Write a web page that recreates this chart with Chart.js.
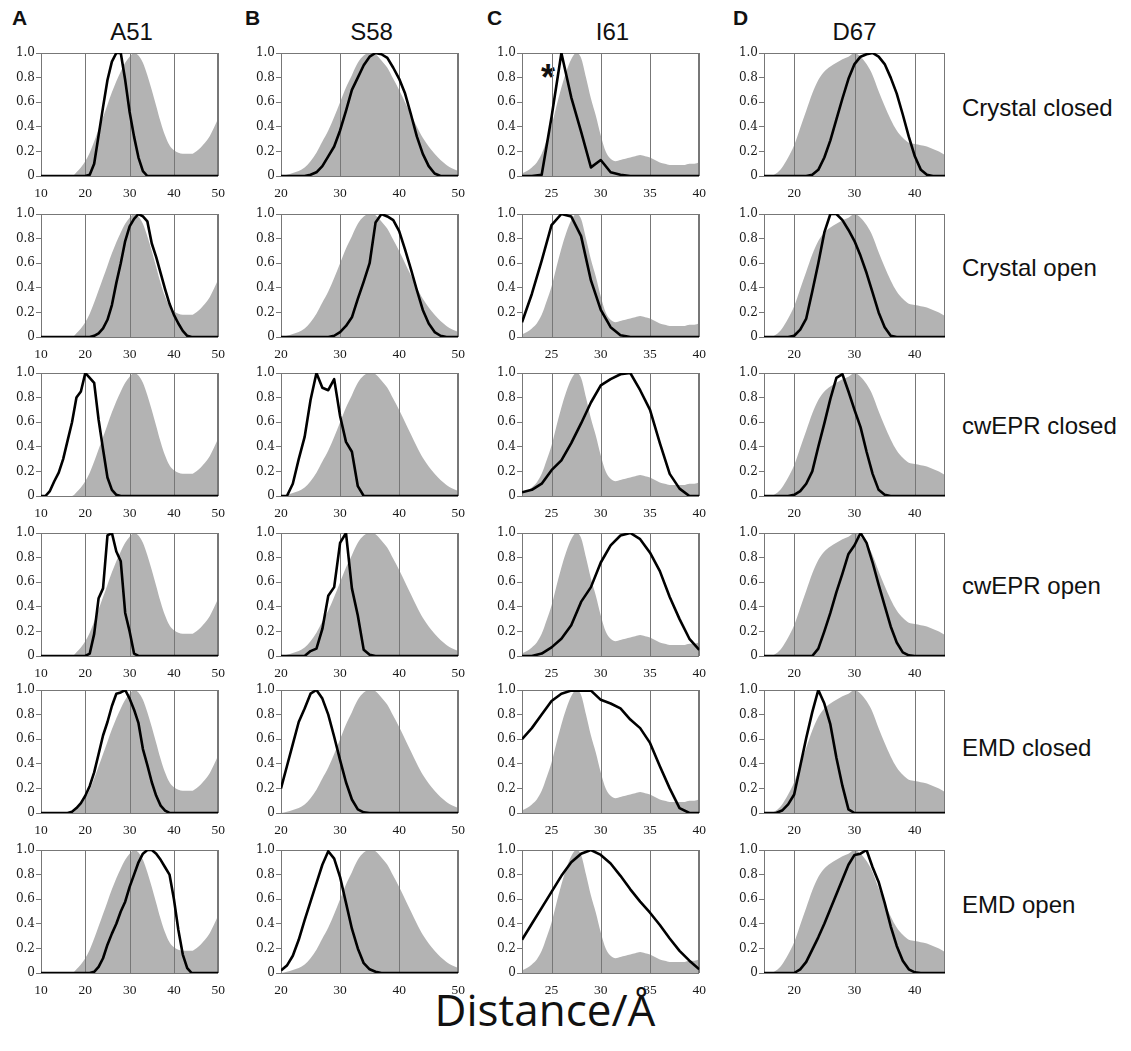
<!DOCTYPE html>
<html>
<head>
<meta charset="utf-8">
<script src="https://cdn.jsdelivr.net/npm/chart.js@4.4.0/dist/chart.umd.min.js"></script>
<style>
  body { margin: 0; background: #fff; }
  #page { position: relative; width: 1131px; height: 1051px; overflow: hidden; font-family: 'Liberation Sans', Arial, sans-serif; color: #111; }
  #page canvas { position: absolute; }
  .txt { position: absolute; white-space: nowrap; line-height: 26px; }
  .panel { font-weight: bold; font-size: 21px; }
  .title { font-size: 24px; text-align: center; }
  .rowlbl { font-size: 24px; }
  #xlabel { position: absolute; left: 0; width: 1090px; top: 985px; text-align: center; font-family: 'Open Sans', sans-serif; font-size: 44px; line-height: 48px; color: #111; }
  #star { position: absolute; left: 541px; top: 60px; font-size: 36px; font-weight: bold; line-height: 36px; }
</style>
</head>
<body>
<div id="page">
  <div id="xlabel">Distance/Å</div>
  <div id="star">*</div>
</div>
<script>
// ---- labels ----
const panelLetters = ['A', 'B', 'C', 'D'];
const residues = ['A51', 'S58', 'I61', 'D67'];
const rowLabels = ['Crystal closed', 'Crystal open', 'cwEPR closed', 'cwEPR open', 'EMD closed', 'EMD open'];

// ---- A51 (distance 10-50 Å) ----
const distA = [10,11,12,13,14,15,16,17,18,19,20,21,22,23,24,25,26,27,28,29,30,31,32,33,34,35,36,37,38,39,40,41,42,43,44,45,46,47,48,49,50];
const ticksA = [10, 20, 30, 40, 50];
const grayA = [0,0,0,0,0,0,0,0,0.03,0.07,0.12,0.19,0.28,0.38,0.48,0.58,0.68,0.77,0.85,0.92,0.97,1.0,0.98,0.92,0.82,0.70,0.57,0.44,0.33,0.25,0.21,0.19,0.18,0.18,0.18,0.2,0.23,0.27,0.32,0.39,0.47];
const a51CrystalClosed = [0,0,0,0,0,0,0,0,0,0,0,0.01,0.1,0.33,0.56,0.78,0.93,1.0,1.0,0.78,0.52,0.32,0.15,0.04,0,0,0,0,0,0,0,0,0,0,0,0,0,0,0,0,0];
const a51CrystalOpen = [0,0,0,0,0,0,0,0,0,0,0,0,0.01,0.03,0.07,0.14,0.26,0.44,0.6,0.78,0.9,0.96,1.0,0.98,0.94,0.76,0.65,0.52,0.39,0.27,0.18,0.11,0.05,0.01,0,0,0,0,0,0,0];
const a51EprClosed = [0,0,0.04,0.12,0.19,0.3,0.45,0.6,0.8,0.85,1.0,0.96,0.92,0.62,0.38,0.15,0.05,0.01,0,0,0,0,0,0,0,0,0,0,0,0,0,0,0,0,0,0,0,0,0,0,0];
const a51EprOpen = [0,0,0,0,0,0,0,0,0,0,0,0.02,0.18,0.47,0.55,0.98,1.0,0.85,0.77,0.35,0.2,0.02,0,0,0,0,0,0,0,0,0,0,0,0,0,0,0,0,0,0,0];
const a51EmdClosed = [0,0,0,0,0,0,0,0.01,0.04,0.08,0.14,0.22,0.33,0.48,0.63,0.74,0.87,0.97,0.98,1.0,0.93,0.84,0.73,0.52,0.39,0.25,0.14,0.06,0.02,0,0,0,0,0,0,0,0,0,0,0,0];
const a51EmdOpen = [0,0,0,0,0,0,0,0,0,0,0,0,0.01,0.05,0.12,0.23,0.32,0.4,0.5,0.58,0.7,0.8,0.9,0.97,1.0,1.0,0.97,0.92,0.86,0.8,0.6,0.35,0.15,0.04,0,0,0,0,0,0,0];

// ---- S58 (distance 20-50 Å) ----
const distB = [20,21,22,23,24,25,26,27,28,29,30,31,32,33,34,35,36,37,38,39,40,41,42,43,44,45,46,47,48,49,50];
const ticksB = [20, 30, 40, 50];
const grayB = [0,0.01,0.025,0.04,0.07,0.12,0.19,0.28,0.37,0.48,0.6,0.72,0.82,0.92,0.98,1.0,0.99,0.94,0.88,0.79,0.70,0.6,0.5,0.4,0.31,0.24,0.18,0.13,0.09,0.06,0.04];
const s58CrystalClosed = [0,0,0,0,0,0.01,0.03,0.08,0.16,0.24,0.37,0.53,0.7,0.8,0.9,0.97,1.0,0.99,0.96,0.88,0.79,0.67,0.5,0.32,0.18,0.08,0.02,0,0,0,0];
const s58CrystalOpen = [0,0,0,0,0,0,0,0,0,0.01,0.04,0.09,0.16,0.31,0.45,0.6,0.93,1.0,0.98,0.95,0.86,0.71,0.55,0.38,0.22,0.11,0.04,0.01,0,0,0];
const s58EprClosed = [0,0,0.1,0.3,0.48,0.78,1.0,0.88,0.86,0.95,0.65,0.44,0.36,0.08,0,0,0,0,0,0,0,0,0,0,0,0,0,0,0,0,0];
const s58EprOpen = [0,0,0,0,0,0.04,0.06,0.22,0.49,0.56,0.92,1.0,0.55,0.33,0.05,0.01,0,0,0,0,0,0,0,0,0,0,0,0,0,0,0];
const s58EmdClosed = [0.2,0.38,0.56,0.74,0.85,0.97,1.0,0.93,0.8,0.62,0.43,0.25,0.11,0.03,0.005,0,0,0,0,0,0,0,0,0,0,0,0,0,0,0,0];
const s58EmdOpen = [0.02,0.06,0.14,0.27,0.43,0.58,0.73,0.88,0.99,0.93,0.78,0.57,0.36,0.2,0.08,0.03,0.01,0,0,0,0,0,0,0,0,0,0,0,0,0,0];

// ---- I61 (distance 22-40 Å) ----
const distCGray = [22,22.5,23,23.5,24,24.5,25,25.5,26,26.5,27,27.5,28,28.5,29,29.5,30,30.5,31,31.5,32,32.5,33,33.5,34,34.5,35,35.5,36,36.5,37,37.5,38,38.5,39,39.5,40];
const distC = [22,23,24,25,26,27,28,29,30,31,32,33,34,35,36,37,38,39,40];
const ticksC = [25, 30, 35, 40];
const grayC = [0.02,0.04,0.07,0.11,0.18,0.29,0.41,0.57,0.72,0.85,0.95,1.0,0.96,0.8,0.63,0.49,0.33,0.2,0.14,0.12,0.13,0.14,0.15,0.16,0.17,0.16,0.15,0.13,0.11,0.1,0.09,0.09,0.09,0.09,0.1,0.1,0.11];
const i61CrystalClosed = [0,0,0.01,0.48,1.0,0.64,0.36,0.07,0.13,0.03,0.01,0,0,0,0,0,0,0,0];
const i61CrystalOpen = [0.12,0.35,0.62,0.91,1.0,0.98,0.82,0.46,0.22,0.08,0.015,0,0,0,0,0,0,0,0];
const i61EprClosed = [0.03,0.05,0.1,0.21,0.29,0.43,0.59,0.76,0.9,0.95,0.99,1.0,0.86,0.7,0.43,0.18,0.06,0,0];
const i61EprOpen = [0,0,0.02,0.07,0.14,0.25,0.44,0.56,0.76,0.9,0.98,1.0,0.95,0.84,0.69,0.48,0.3,0.14,0.05];
const i61EmdClosed = [0.6,0.69,0.8,0.91,0.97,0.995,0.995,0.995,0.92,0.89,0.85,0.76,0.69,0.57,0.38,0.2,0.04,0,0];
const i61EmdOpen = [0.27,0.4,0.53,0.66,0.79,0.9,0.97,1.0,0.96,0.89,0.79,0.68,0.58,0.49,0.39,0.28,0.18,0.1,0.03];

// ---- D67 (distance 15-45 Å) ----
const distD = [15,16,17,18,19,20,21,22,23,24,25,26,27,28,29,30,31,32,33,34,35,36,37,38,39,40,41,42,43,44,45];
const ticksD = [20, 30, 40];
const grayD = [0,0,0.02,0.07,0.15,0.25,0.39,0.53,0.67,0.78,0.85,0.89,0.92,0.95,0.97,1.0,0.97,0.91,0.82,0.69,0.57,0.46,0.37,0.31,0.27,0.26,0.25,0.24,0.22,0.2,0.17];
const d67CrystalClosed = [0,0,0,0,0,0,0,0,0.01,0.05,0.15,0.29,0.46,0.63,0.79,0.91,0.97,0.99,1.0,0.97,0.91,0.8,0.67,0.5,0.32,0.16,0.05,0.01,0,0,0];
const d67CrystalOpen = [0,0,0,0,0,0.01,0.06,0.15,0.37,0.6,0.85,1.0,1.0,0.95,0.87,0.78,0.66,0.52,0.36,0.2,0.08,0.01,0,0,0,0,0,0,0,0,0];
const d67EprClosed = [0,0,0,0,0,0.01,0.04,0.1,0.2,0.4,0.59,0.79,0.96,0.99,0.85,0.7,0.56,0.36,0.18,0.05,0.01,0,0,0,0,0,0,0,0,0,0];
const d67EprOpen = [0,0,0,0,0,0,0,0,0,0.06,0.2,0.35,0.52,0.67,0.83,0.9,1.0,0.92,0.76,0.58,0.41,0.24,0.11,0.03,0.005,0,0,0,0,0,0];
const d67EmdClosed = [0,0,0,0.02,0.07,0.15,0.38,0.61,0.82,1.0,0.89,0.72,0.45,0.22,0.03,0,0,0,0,0,0,0,0,0,0,0,0,0,0,0,0];
const d67EmdOpen = [0,0,0,0,0,0,0.03,0.09,0.19,0.29,0.4,0.52,0.64,0.76,0.88,0.96,0.97,1.0,0.86,0.74,0.57,0.38,0.22,0.1,0.03,0.005,0,0,0,0,0];

const columns = [
  { min: 10, max: 50, ticks: ticksA, grayX: distA, gray: grayA, lineX: distA,
    lines: [a51CrystalClosed, a51CrystalOpen, a51EprClosed, a51EprOpen, a51EmdClosed, a51EmdOpen] },
  { min: 20, max: 50, ticks: ticksB, grayX: distB, gray: grayB, lineX: distB,
    lines: [s58CrystalClosed, s58CrystalOpen, s58EprClosed, s58EprOpen, s58EmdClosed, s58EmdOpen] },
  { min: 22, max: 40, ticks: ticksC, grayX: distCGray, gray: grayC, lineX: distC,
    lines: [i61CrystalClosed, i61CrystalOpen, i61EprClosed, i61EprOpen, i61EmdClosed, i61EmdOpen] },
  { min: 15, max: 45, ticks: ticksD, grayX: distD, gray: grayD, lineX: distD,
    lines: [d67CrystalClosed, d67CrystalOpen, d67EprClosed, d67EprOpen, d67EmdClosed, d67EmdOpen] }
];

// ---- layout ----
const colLeft = [41, 281, 522, 764];
const rowTop = [53, 214, 373, 533, 690, 850];
const PLOT_W = 181, PLOT_H = 123;
const PAD_L = 40, PAD_T = 10, PAD_R = 12, AXIS_H = 28;
const GRAY = '#b3b3b3';
const LINE_GRAY = '#777';
const xTickFont = { family: "'Liberation Serif', 'DejaVu Serif', serif", size: 13.5 };
const yTickFont = { family: "'DejaVu Serif', 'Liberation Serif', serif", size: 12 };

const page = document.getElementById('page');

// grid lines + frame go on top of the gray area but under the black curve
const frameGrid = {
  id: 'frameGrid',
  afterDatasetDraw(chart, args, opts) {
    if (args.index !== 0) return;
    const { ctx, chartArea: a } = chart;
    const x = chart.scales.x;
    ctx.save();
    ctx.strokeStyle = LINE_GRAY;
    ctx.lineWidth = 1;
    opts.lines.forEach(v => {
      const px = Math.round(x.getPixelForValue(v)) + 0.5;
      ctx.beginPath();
      ctx.moveTo(px, a.top);
      ctx.lineTo(px, a.bottom);
      ctx.stroke();
    });
    ctx.strokeRect(Math.round(a.left) + 0.5, Math.round(a.top) + 0.5, Math.round(a.width) - 1, Math.round(a.height));
    ctx.restore();
  }
};

function addText(cls, text, left, top, width) {
  const d = document.createElement('div');
  d.className = 'txt ' + cls;
  d.textContent = text;
  d.style.left = left + 'px';
  d.style.top = top + 'px';
  if (width) d.style.width = width + 'px';
  page.appendChild(d);
}

function makeChart(col, row) {
  const c = columns[col];
  const canvas = document.createElement('canvas');
  canvas.width = PAD_L + PLOT_W + PAD_R;
  canvas.height = PAD_T + PLOT_H + AXIS_H;
  canvas.style.left = (colLeft[col] - PAD_L) + 'px';
  canvas.style.top = (rowTop[row] - PAD_T) + 'px';
  page.appendChild(canvas);

  const grayPts = c.grayX.map((d, i) => ({ x: d, y: c.gray[i] }));
  const linePts = c.lineX.map((d, i) => ({ x: d, y: c.lines[row][i] }));

  new Chart(canvas, {
    type: 'line',
    data: {
      datasets: [
        { data: grayPts, order: 2, fill: 'origin', backgroundColor: GRAY, borderWidth: 0,
          pointRadius: 0, cubicInterpolationMode: 'monotone' },
        { data: linePts, order: 1, fill: false, borderColor: '#000', borderWidth: 2.6,
          pointRadius: 0, tension: 0, borderJoinStyle: 'round' }
      ]
    },
    options: {
      responsive: false,
      animation: false,
      devicePixelRatio: 1,
      events: [],
      layout: { padding: { top: PAD_T, right: PAD_R, left: 0, bottom: 0 } },
      plugins: {
        legend: { display: false },
        tooltip: { enabled: false },
        frameGrid: { lines: c.ticks }
      },
      scales: {
        x: {
          type: 'linear', min: c.min, max: c.max,
          afterBuildTicks: ax => { ax.ticks = c.ticks.map(v => ({ value: v })); },
          afterFit: ax => { ax.height = AXIS_H; },
          grid: { display: false, drawTicks: false },
          border: { display: false },
          ticks: { font: xTickFont, color: '#1a1a1a', padding: 9, maxRotation: 0, autoSkip: false }
        },
        y: {
          min: 0, max: 1,
          afterFit: ax => { ax.width = PAD_L; },
          grid: { drawOnChartArea: false, drawTicks: true, tickLength: 5, tickColor: LINE_GRAY, color: LINE_GRAY },
          border: { display: false },
          ticks: { stepSize: 0.2, padding: 1, font: yTickFont, color: '#1a1a1a',
            callback: v => (v === 0 ? '0' : v.toFixed(1)) }
        }
      }
    },
    plugins: [frameGrid]
  });
}

const panelLeft = [12, 245, 487, 733];
for (let col = 0; col < 4; col++) {
  addText('panel', panelLetters[col], panelLeft[col], 5);
  addText('title', residues[col], colLeft[col], 19, PLOT_W);
  for (let row = 0; row < 6; row++) makeChart(col, row);
}
const rowLabelCenter = [108, 268, 426, 586, 748, 905];
rowLabels.forEach((t, i) => addText('rowlbl', t, 962, rowLabelCenter[i] - 13));
</script>
</body>
</html>
